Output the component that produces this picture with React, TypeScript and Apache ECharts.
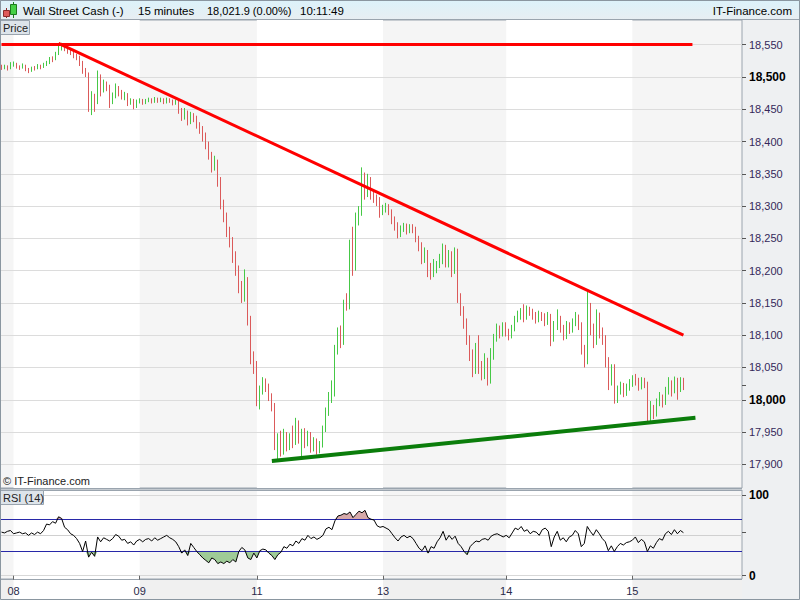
import React, { useEffect, useRef } from 'react';
import * as echarts from 'echarts';

// ---- data ----
const dayLabels = ['08', '09', '11', '13', '14', '15'];
const dayStartIndex = [4, 46, 85, 127, 168, 210];
const slotCount = 247;

// [open, close, low, high] per 15-minute candle
const candles: number[][] = [
  [18516, 18515, 18511, 18519], [18515, 18516, 18512, 18519], [18516, 18513, 18510, 18518], [18513, 18519, 18512, 18523], [18519, 18521, 18516, 18524],
  [18521, 18515, 18513, 18522], [18515, 18514, 18511, 18518], [18514, 18518, 18513, 18521], [18518, 18512, 18509, 18519], [18512, 18509, 18506, 18514],
  [18509, 18514, 18508, 18516], [18514, 18513, 18510, 18517], [18513, 18517, 18512, 18520], [18517, 18515, 18512, 18519], [18515, 18519, 18514, 18522],
  [18519, 18522, 18517, 18525], [18522, 18528, 18520, 18531], [18528, 18527, 18523, 18532], [18527, 18536, 18526, 18539], [18536, 18545, 18534, 18549],
  [18545, 18548, 18541, 18553], [18548, 18544, 18540, 18551], [18544, 18540, 18536, 18547], [18540, 18538, 18534, 18544], [18538, 18533, 18529, 18541],
  [18533, 18530, 18526, 18536], [18530, 18522, 18517, 18533], [18522, 18510, 18505, 18525], [18510, 18504, 18500, 18514], [18504, 18452, 18446, 18507],
  [18452, 18470, 18441, 18478], [18470, 18462, 18446, 18474], [18462, 18500, 18458, 18510], [18500, 18478, 18470, 18504], [18478, 18490, 18476, 18496],
  [18490, 18484, 18478, 18493], [18484, 18462, 18452, 18488], [18462, 18470, 18458, 18476], [18470, 18482, 18467, 18490], [18482, 18476, 18470, 18486],
  [18476, 18470, 18465, 18480], [18470, 18472, 18464, 18477], [18472, 18460, 18455, 18475], [18460, 18463, 18457, 18467], [18463, 18455, 18450, 18466],
  [18455, 18462, 18452, 18465], [18462, 18464, 18459, 18467], [18464, 18460, 18457, 18466], [18460, 18463, 18458, 18466], [18463, 18465, 18461, 18468],
  [18465, 18462, 18459, 18467], [18462, 18466, 18460, 18469], [18466, 18463, 18460, 18468], [18463, 18465, 18461, 18468], [18465, 18461, 18458, 18467],
  [18461, 18465, 18459, 18468], [18465, 18463, 18460, 18467], [18463, 18460, 18456, 18465], [18460, 18462, 18457, 18465], [18462, 18448, 18443, 18464],
  [18448, 18438, 18432, 18452], [18438, 18445, 18434, 18452], [18445, 18430, 18425, 18448], [18430, 18440, 18427, 18446], [18440, 18437, 18430, 18444],
  [18437, 18426, 18420, 18440], [18426, 18418, 18412, 18430], [18418, 18410, 18400, 18424], [18410, 18395, 18388, 18414], [18395, 18380, 18372, 18400],
  [18380, 18360, 18352, 18384], [18360, 18368, 18355, 18378], [18368, 18340, 18330, 18372], [18340, 18305, 18295, 18345], [18305, 18285, 18275, 18310],
  [18285, 18262, 18252, 18290], [18262, 18245, 18236, 18268], [18245, 18225, 18212, 18252], [18225, 18202, 18192, 18230], [18202, 18178, 18165, 18208],
  [18178, 18160, 18150, 18184], [18160, 18185, 18152, 18202], [18185, 18125, 18115, 18190], [18125, 18068, 18055, 18130], [18068, 18055, 18040, 18075],
  [18055, 18000, 17990, 18060], [18000, 18015, 17985, 18022], [18015, 18028, 18008, 18035], [18028, 18020, 18012, 18033], [18020, 18005, 17998, 18025],
  [18005, 17990, 17982, 18010], [17990, 17930, 17922, 17995], [17930, 17935, 17905, 17948], [17935, 17920, 17912, 17952], [17920, 17945, 17915, 17955],
  [17945, 17928, 17920, 17950], [17928, 17938, 17922, 17948], [17938, 17935, 17925, 17960], [17935, 17955, 17930, 17972], [17955, 17940, 17932, 17968],
  [17940, 17950, 17910, 17955], [17950, 17932, 17925, 17956], [17932, 17945, 17928, 17952], [17945, 17925, 17918, 17950], [17925, 17935, 17920, 17942],
  [17935, 17920, 17915, 17940], [17920, 17930, 17917, 17936], [17930, 17955, 17926, 17960], [17955, 17980, 17950, 17988], [17980, 18005, 17975, 18012],
  [18005, 18010, 17995, 18030], [18010, 18075, 18005, 18085], [18075, 18105, 18070, 18112], [18105, 18090, 18080, 18115], [18090, 18150, 18085, 18155],
  [18150, 18145, 18138, 18165], [18145, 18240, 18140, 18248], [18240, 18205, 18192, 18268], [18205, 18280, 18200, 18290], [18280, 18290, 18270, 18300],
  [18290, 18335, 18285, 18360], [18335, 18320, 18310, 18352], [18320, 18340, 18314, 18350], [18340, 18318, 18310, 18345], [18318, 18312, 18305, 18325],
  [18312, 18310, 18300, 18318], [18310, 18290, 18282, 18314], [18290, 18296, 18286, 18302], [18296, 18300, 18290, 18305], [18300, 18292, 18286, 18303],
  [18292, 18280, 18272, 18295], [18280, 18270, 18262, 18284], [18270, 18255, 18250, 18275], [18255, 18265, 18252, 18270], [18265, 18270, 18260, 18274],
  [18270, 18262, 18256, 18273], [18262, 18268, 18258, 18272], [18268, 18265, 18258, 18272], [18265, 18250, 18244, 18268], [18250, 18240, 18230, 18254],
  [18240, 18218, 18210, 18244], [18218, 18228, 18212, 18236], [18228, 18200, 18190, 18232], [18200, 18195, 18186, 18212], [18195, 18205, 18190, 18218],
  [18205, 18208, 18196, 18215], [18208, 18215, 18204, 18226], [18215, 18235, 18210, 18242], [18235, 18210, 18205, 18240], [18210, 18225, 18205, 18232],
  [18225, 18200, 18190, 18230], [18200, 18230, 18195, 18236], [18230, 18160, 18150, 18234], [18160, 18140, 18130, 18165], [18140, 18120, 18110, 18145],
  [18120, 18095, 18085, 18126], [18095, 18070, 18060, 18100], [18070, 18045, 18035, 18078], [18045, 18080, 18040, 18088], [18080, 18050, 18040, 18100],
  [18050, 18040, 18030, 18060], [18040, 18060, 18032, 18072], [18060, 18030, 18022, 18065], [18030, 18070, 18025, 18080], [18070, 18095, 18062, 18102],
  [18095, 18110, 18090, 18118], [18110, 18102, 18095, 18115], [18102, 18115, 18098, 18120], [18115, 18105, 18098, 18120], [18105, 18098, 18092, 18110],
  [18098, 18110, 18095, 18116], [18110, 18125, 18106, 18130], [18125, 18130, 18120, 18138], [18130, 18135, 18124, 18142], [18135, 18128, 18120, 18148],
  [18128, 18140, 18124, 18146], [18140, 18137, 18130, 18144], [18137, 18130, 18124, 18141], [18130, 18125, 18118, 18136], [18125, 18132, 18120, 18138],
  [18132, 18128, 18122, 18136], [18128, 18120, 18114, 18134], [18120, 18130, 18116, 18136], [18130, 18095, 18083, 18133], [18095, 18115, 18090, 18122],
  [18115, 18125, 18108, 18140], [18125, 18110, 18104, 18130], [18110, 18098, 18092, 18116], [18098, 18115, 18094, 18122], [18115, 18108, 18102, 18120],
  [18108, 18120, 18104, 18126], [18120, 18128, 18114, 18136], [18128, 18115, 18108, 18132], [18115, 18080, 18070, 18120], [18080, 18060, 18050, 18085],
  [18060, 18140, 18055, 18170], [18140, 18110, 18100, 18150], [18110, 18090, 18080, 18118], [18090, 18130, 18085, 18140], [18130, 18105, 18095, 18135],
  [18105, 18095, 18085, 18112], [18095, 18060, 18050, 18100], [18060, 18030, 18015, 18066], [18030, 18050, 18022, 18055], [18050, 18000, 17994, 18055],
  [18000, 18015, 17995, 18022], [18015, 18022, 18008, 18028], [18022, 18010, 18004, 18026], [18010, 18020, 18006, 18025], [18020, 18025, 18014, 18032],
  [18025, 18032, 18020, 18038], [18032, 18028, 18022, 18040], [18028, 18020, 18014, 18034], [18020, 18030, 18016, 18035], [18030, 18025, 18018, 18034],
  [18025, 17972, 17965, 18028], [17972, 17985, 17966, 17998], [17985, 17978, 17970, 17992], [17978, 17995, 17974, 18002], [17995, 18002, 17990, 18012],
  [18002, 17995, 17988, 18008], [17995, 18012, 17992, 18020], [18012, 18025, 18008, 18035], [18025, 18015, 18005, 18030], [18015, 18030, 18010, 18036],
  [18030, 18018, 18000, 18034], [18018, 18030, 18012, 18035], [18030, 18021.9, 18015, 18034],
];

const rsi: number[] = [
  54, 53, 55, 56, 52, 53, 54, 52, 53, 50,
  53, 51, 54, 52, 56, 64, 63, 67, 65, 73,
  71, 60, 57, 52, 50, 46, 40, 30, 43, 23,
  29, 24, 48, 42, 47, 45, 43, 46, 51, 49,
  44, 45, 40, 42, 38, 43, 45, 42, 45, 46,
  43, 47, 44, 46, 48, 50, 47, 45, 42, 36,
  28, 32, 25, 40, 35, 30, 26, 22, 19, 16,
  22, 20, 15, 17, 15, 18, 16, 20, 17, 30,
  35, 32, 22, 20, 28, 22, 31, 33, 32, 28,
  25, 20, 26, 29, 36, 34, 39, 37, 43, 40,
  46, 44, 50, 46, 48, 45, 47, 50, 58, 60,
  57, 68, 74, 75, 77, 76, 79, 72, 76, 80,
  78, 81, 72, 70, 69, 62, 60, 61, 59, 57,
  52, 47, 43, 48, 50, 47, 49, 46, 40, 34,
  31, 37, 28, 36, 34, 42, 47, 55, 44, 50,
  45, 49, 40, 36, 30, 26, 36, 40, 43, 42,
  45, 46, 44, 49, 51, 52, 50, 48, 50, 47,
  53, 59, 57, 61, 55, 57, 52, 55, 54, 50,
  57, 59, 55, 36, 48, 55, 44, 47, 42, 48,
  50, 56, 52, 36, 40, 61, 55, 50, 57, 52,
  46, 42, 31, 37, 30, 36, 40, 38, 41, 42,
  44, 48, 41, 45, 42, 30, 37, 34, 41, 46,
  44, 52, 55, 51, 57, 52, 56, 53.342,
];

const priceTicks = [17900, 17950, 18000, 18050, 18100, 18150, 18200, 18250, 18300, 18350, 18400, 18450, 18500, 18550];
const boldPriceTicks = [18000, 18500];
const lastPrice = 18021.9;
const lastRsi = 53.342;
const resistance = { value: 18550, endIndex: 230 };
const downTrend = [[19, 18552], [227, 18100]];
const upTrend = [[90, 17905], [231, 17972]];
const rsiUpper = 70;
const rsiLower = 30;
const rsiMid = 50;
const whiteBands = [[4, 46], [85, 127], [168, 210]];

const PRICE_MIN = 17863.3;
const PRICE_MAX = 18588.3;
const RSI_MIN = -4.09;
const RSI_MAX = 106.2;

const UP = '#46c846';
const DOWN = '#db5a5a';
const BORDER = '#9aa4ae';
const FONT = 'Arial, "Liberation Sans", sans-serif';

const fmt = (v: number) => v.toLocaleString('en-US', { maximumFractionDigits: 3 });

export default function App() {
  const ref = useRef<HTMLDivElement>(null);

  useEffect(() => {
    const chart = echarts.init(ref.current!, null, { renderer: 'svg' });
    const categories = Array.from({ length: slotCount }, (_, i) => {
      const k = dayStartIndex.indexOf(i);
      return k >= 0 ? dayLabels[k] : 'c' + i;
    });
    const isDay = (i: number) => dayStartIndex.indexOf(i) >= 0;

    const bandData = whiteBands.map(([a, b]) => [{ xAxis: a }, { xAxis: b }]);
    const bandStyle = { color: '#ffffff', opacity: 1 };

    const lowBase = rsi.map((v) => Math.min(v, rsiLower));
    const lowFill = rsi.map((v) => rsiLower - Math.min(v, rsiLower));
    const highBase = rsi.map(() => rsiUpper);
    const highFill = rsi.map((v) => Math.max(v, rsiUpper) - rsiUpper);

    const hiddenLine = { width: 0, opacity: 0 };
    const borderLine = { color: BORDER, width: 1, type: 'solid' };

    const option: any = {
      animation: false,
      backgroundColor: '#eef0f2',
      textStyle: { fontFamily: FONT },
      grid: [
        { left: 0, right: 58, top: 20, height: 468, show: true, backgroundColor: '#f5f5f5', borderColor: BORDER, borderWidth: 1 },
        { left: 0, right: 58, top: 490, height: 89, show: true, backgroundColor: '#f5f5f5', borderColor: BORDER, borderWidth: 1 },
        { left: 0, right: 58, top: 579, height: 21, show: true, backgroundColor: '#f0f0f0', borderWidth: 0 },
      ],
      xAxis: [
        { type: 'category', gridIndex: 0, data: categories, boundaryGap: true, show: false },
        {
          type: 'category', gridIndex: 1, data: categories, boundaryGap: true, z: 10,
          axisLine: { show: false },
          axisTick: { show: true, interval: (i: number) => isDay(i), alignWithLabel: true, length: 4, lineStyle: { color: '#666' } },
          axisLabel: { interval: (i: number) => isDay(i), margin: 6, fontSize: 11, color: '#2a2a4a', fontFamily: FONT, hideOverlap: false },
          splitLine: { show: false },
        },
        { type: 'category', gridIndex: 2, data: categories, boundaryGap: true, show: false },
      ],
      yAxis: [
        {
          type: 'value', gridIndex: 0, position: 'right', min: PRICE_MIN, max: PRICE_MAX, scale: true,
          axisLine: { show: false }, axisLabel: { show: false }, splitLine: { show: false },
          axisTick: { show: true, customValues: [...priceTicks, lastPrice], length: 4, lineStyle: { color: '#555' } },
        },
        {
          type: 'value', gridIndex: 1, position: 'right', min: RSI_MIN, max: RSI_MAX,
          axisLine: { show: false }, axisLabel: { show: false }, splitLine: { show: false },
          axisTick: { show: true, customValues: [0, lastRsi, 100], length: 4, lineStyle: { color: '#555' } },
        },
        { type: 'value', gridIndex: 2, min: 0, max: 1, show: false },
      ],
      series: [
        {
          name: 'bands', type: 'line', xAxisIndex: 0, yAxisIndex: 0, data: [], silent: true, z: 1,
          markArea: { silent: true, z: 1, itemStyle: bandStyle, data: bandData },
          markLine: {
            silent: true, z: 1.5, symbol: ['none', 'none'], animation: false,
            lineStyle: { color: '#dcdcdc', width: 1, type: 'solid' },
            label: {
              show: true, position: 'end', distance: 7, fontSize: 11, fontFamily: FONT,
              formatter: (p: any) => fmt(p.value),
            },
            data: priceTicks.map((v) => ({
              yAxis: v,
              label: boldPriceTicks.includes(v)
                ? { fontWeight: 'bold', color: '#000', fontSize: 12 }
                : { color: '#34285a' },
            })),
          },
        },
        {
          name: 'Wall Street Cash', type: 'candlestick', xAxisIndex: 0, yAxisIndex: 0, z: 2,
          data: candles, barWidth: 1,
          itemStyle: { color: UP, color0: DOWN, borderColor: UP, borderColor0: DOWN, borderWidth: 1 },
          markLine: {
            silent: true, z: 3, symbol: ['none', 'none'], animation: false, label: { show: false },
            data: [
              [{ coord: [0, resistance.value] }, { coord: [resistance.endIndex, resistance.value] }],
              [{ coord: downTrend[0] }, { coord: downTrend[1] }],
              [
                { coord: upTrend[0], lineStyle: { color: '#0b7d0b', width: 4 } },
                { coord: upTrend[1], lineStyle: { color: '#0b7d0b', width: 4 } },
              ],
            ],
            lineStyle: { color: '#ff0000', width: 3, type: 'solid' },
          },
        },
        {
          name: 'last', type: 'line', xAxisIndex: 0, yAxisIndex: 0, data: [], silent: true, z: 4,
          markLine: {
            silent: true, z: 6, symbol: ['none', 'none'], animation: false,
            label: { show: false },
            data: [
              { yAxis: PRICE_MIN, lineStyle: borderLine },
              {
                yAxis: lastPrice, lineStyle: { width: 0, opacity: 0 },
                label: {
                  show: true, position: 'end', distance: 7, fontSize: 11, fontFamily: FONT, color: '#000',
                  backgroundColor: '#ffcc00', borderColor: '#8a8a8a', borderWidth: 1, padding: [2, 2, 1, 2],
                  formatter: () => fmt(lastPrice),
                },
              },
            ],
          },
        },
        // strip under RSI pane (day bands behind x labels)
        {
          name: 'strip', type: 'line', xAxisIndex: 2, yAxisIndex: 2, data: [], silent: true, z: 0,
          markArea: { silent: true, z: 0.5, itemStyle: bandStyle, data: bandData },
        },
        // RSI pane
        {
          name: 'rsiBands', type: 'line', xAxisIndex: 1, yAxisIndex: 1, data: [], silent: true, z: 1,
          markArea: { silent: true, z: 1, itemStyle: bandStyle, data: bandData },
          markLine: {
            silent: true, z: 1.5, symbol: ['none', 'none'], animation: false,
            label: { show: false },
            data: [
              { yAxis: 100, lineStyle: { color: '#d8d8d8', width: 1, type: 'solid' },
                label: { show: true, position: 'end', distance: 7, formatter: '100', fontWeight: 'bold', fontSize: 12, color: '#000' } },
              { yAxis: rsiMid, lineStyle: { color: '#d0d0d0', width: 1, type: 'solid' } },
              { yAxis: 0, lineStyle: { color: '#d8d8d8', width: 1, type: 'solid' },
                label: { show: true, position: 'end', distance: 7, formatter: '0', fontWeight: 'bold', fontSize: 12, color: '#000' } },
            ],
          },
        },
        {
          name: 'lowBase', type: 'line', xAxisIndex: 1, yAxisIndex: 1, stack: 'low', data: lowBase,
          symbol: 'none', silent: true, lineStyle: hiddenLine, z: 2,
        },
        {
          name: 'lowFill', type: 'line', xAxisIndex: 1, yAxisIndex: 1, stack: 'low', data: lowFill,
          symbol: 'none', silent: true, lineStyle: hiddenLine, z: 2,
          areaStyle: { color: '#9fcb97', opacity: 1 },
        },
        {
          name: 'highBase', type: 'line', xAxisIndex: 1, yAxisIndex: 1, stack: 'high', data: highBase,
          symbol: 'none', silent: true, lineStyle: hiddenLine, z: 2,
        },
        {
          name: 'highFill', type: 'line', xAxisIndex: 1, yAxisIndex: 1, stack: 'high', data: highFill,
          symbol: 'none', silent: true, lineStyle: hiddenLine, z: 2,
          areaStyle: { color: '#d6a9a9', opacity: 1 },
        },
        {
          name: 'rsiLevels', type: 'line', xAxisIndex: 1, yAxisIndex: 1, data: [], silent: true, z: 3,
          markLine: {
            silent: true, z: 3, symbol: ['none', 'none'], animation: false, label: { show: false },
            lineStyle: { color: '#2828a8', width: 1, type: 'solid' },
            data: [
              { yAxis: rsiUpper }, { yAxis: rsiLower },
              { yAxis: RSI_MAX, lineStyle: borderLine },
              { yAxis: RSI_MIN, lineStyle: borderLine },
            ],
          },
        },
        {
          name: 'RSI (14)', type: 'line', xAxisIndex: 1, yAxisIndex: 1, data: rsi, z: 4,
          symbol: 'none', silent: true, lineStyle: { color: '#000', width: 1 },
          markLine: {
            silent: true, z: 6, symbol: ['none', 'none'], animation: false,
            lineStyle: { width: 0, opacity: 0 },
            label: {
              show: true, position: 'end', distance: 7, fontSize: 11, fontFamily: FONT, color: '#222',
              backgroundColor: '#ffffff', borderColor: '#8a8a8a', borderWidth: 1, padding: [2, 2, 1, 2],
              formatter: () => fmt(lastRsi),
            },
            data: [{ yAxis: lastRsi }],
          },
        },
      ],
      graphic: [
        {
          type: 'rect', z: 100, shape: { x: 0.5, y: 0.5, width: 799, height: 19 },
          style: {
            fill: new echarts.graphic.LinearGradient(0, 0, 0, 1, [
              { offset: 0, color: '#dcf2fa' },
              { offset: 1, color: '#e8eef2' },
            ]),
            stroke: BORDER, lineWidth: 1,
          },
        },
        // candle icon
        { type: 'line', z: 101, shape: { x1: 6.5, y1: 8, x2: 6.5, y2: 18 }, style: { stroke: '#8a2a2a', lineWidth: 1 } },
        { type: 'rect', z: 102, shape: { x: 3.5, y: 10.5, width: 6, height: 6 }, style: { fill: '#e05a5a', stroke: '#8a2a2a', lineWidth: 1 } },
        { type: 'line', z: 101, shape: { x1: 13.5, y1: 2, x2: 13.5, y2: 18 }, style: { stroke: '#1e7a1e', lineWidth: 1 } },
        { type: 'rect', z: 102, shape: { x: 10.5, y: 4.5, width: 6, height: 10 }, style: { fill: '#46d046', stroke: '#1e7a1e', lineWidth: 1 } },
        { type: 'text', z: 103, x: 23, y: 10.5, style: { text: 'Wall Street Cash (-)', fontSize: 11.5, fontFamily: FONT, fill: '#000', verticalAlign: 'middle' } },
        { type: 'text', z: 103, x: 138, y: 10.5, style: { text: '15 minutes', fontSize: 11.5, fontFamily: FONT, fill: '#000', verticalAlign: 'middle' } },
        { type: 'text', z: 103, x: 207, y: 10.5, style: { text: '18,021.9 (0.00%)', fontSize: 11, fontFamily: FONT, fill: '#000', verticalAlign: 'middle' } },
        { type: 'text', z: 103, x: 300, y: 10.5, style: { text: '10:11:49', fontSize: 11.5, fontFamily: FONT, fill: '#000', verticalAlign: 'middle' } },
        { type: 'text', z: 103, x: 792, y: 10.5, style: { text: 'IT-Finance.com', fontSize: 11.5, fontFamily: FONT, fill: '#000', align: 'right', verticalAlign: 'middle' } },
        // Price tag
        { type: 'rect', z: 100, shape: { x: 0.5, y: 20.5, width: 29, height: 14 }, style: { fill: '#dde4ea', stroke: BORDER, lineWidth: 1 } },
        { type: 'text', z: 101, x: 3, y: 28, style: { text: 'Price', fontSize: 11, fontFamily: FONT, fill: '#222', verticalAlign: 'middle' } },
        // copyright
        { type: 'text', z: 101, x: 3, y: 480.5, style: { text: '© IT-Finance.com', fontSize: 11, fontFamily: FONT, fill: '#222', verticalAlign: 'middle' } },
        // RSI tag
        { type: 'rect', z: 100, shape: { x: 0.5, y: 490.5, width: 43, height: 14 }, style: { fill: '#dde4ea', stroke: BORDER, lineWidth: 1 } },
        { type: 'text', z: 101, x: 3, y: 498, style: { text: 'RSI (14)', fontSize: 11, fontFamily: FONT, fill: '#222', verticalAlign: 'middle' } },
        // outer frame
        { type: 'rect', z: 104, shape: { x: 0.5, y: 0.5, width: 799, height: 599 }, style: { fill: 'none', stroke: '#8a96a0', lineWidth: 1 } },
      ],
    };

    chart.setOption(option);
    return () => chart.dispose();
  }, []);

  return <div ref={ref} style={{ position: 'fixed', left: 0, top: 0, width: 800, height: 600 }} />;
}
